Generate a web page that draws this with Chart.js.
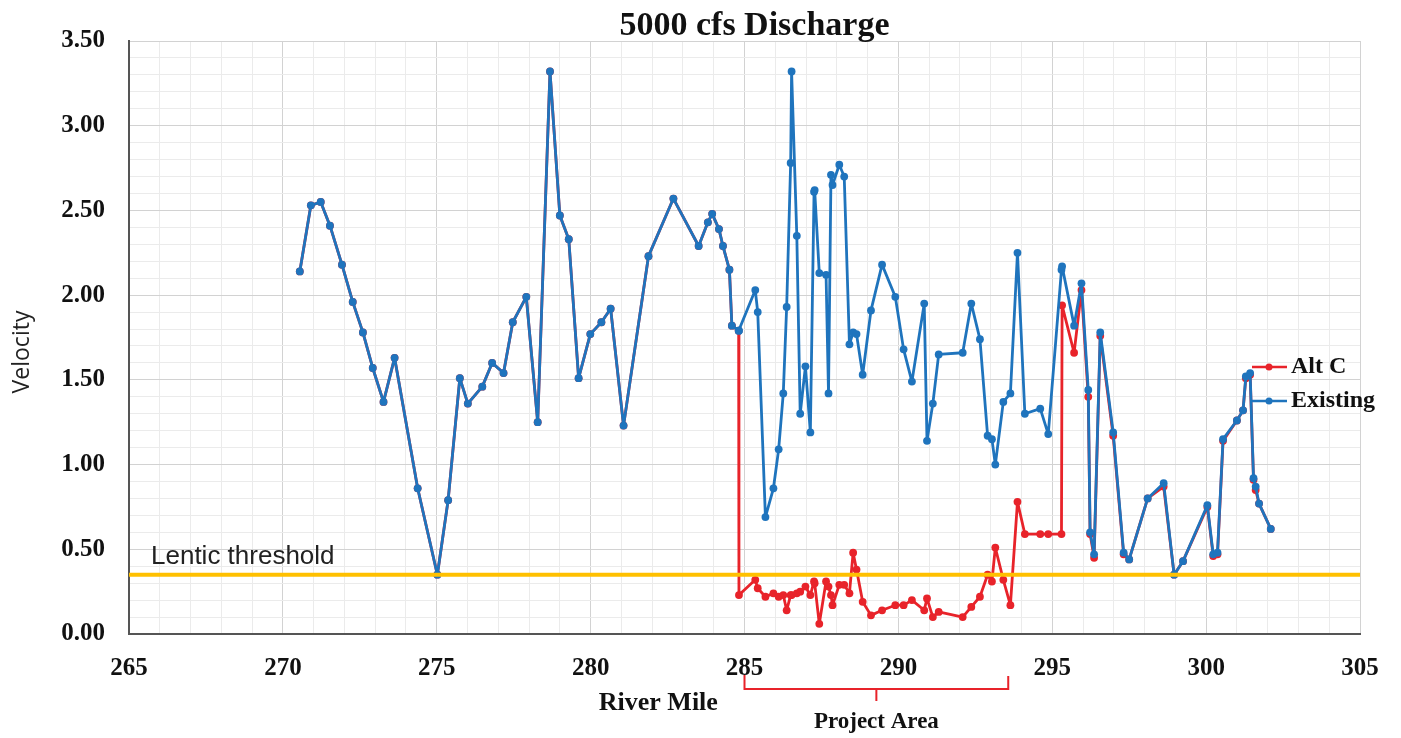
<!DOCTYPE html>
<html><head><meta charset="utf-8">
<script src="https://cdn.jsdelivr.net/npm/chart.js@4.4.1/dist/chart.umd.min.js"></script>
<style>html,body{margin:0;padding:0;background:#fff;}canvas{display:block;}</style>
</head><body>
<canvas id="c" width="1401" height="738"></canvas>
<script>
// ---- data ----
const riverMile = [
270.55, 270.91, 271.23, 271.53, 271.92, 272.27, 272.60, 272.92, 273.27, 273.63,
274.38, 275.02, 275.37, 275.75, 276.01, 276.48, 276.80, 277.17, 277.47, 277.91,
278.28, 278.68, 279.00, 279.29, 279.61, 279.99, 280.35, 280.65, 281.07, 281.88,
282.69, 283.51, 283.81, 283.95, 284.17, 284.30, 284.51, 284.59, 284.81, 284.82,
285.35, 285.43, 285.68, 285.94, 286.11, 286.26, 286.37, 286.50, 286.53, 286.70,
286.81, 286.98, 287.14, 287.26, 287.28, 287.43, 287.65, 287.73, 287.81, 287.86,
288.08, 288.24, 288.41, 288.53, 288.64, 288.84, 289.11, 289.47, 289.90, 290.17,
290.44, 290.84, 290.93, 291.12, 291.31, 292.09, 292.37, 292.65, 292.90, 293.04,
293.15, 293.41, 293.64, 293.87, 294.11, 294.61, 294.87, 295.30, 295.32, 295.71,
295.95, 296.17, 296.23, 296.36, 296.56, 296.98, 297.32, 297.50, 298.10, 298.62,
298.96, 299.25, 300.04, 300.23, 300.37, 300.55, 301.00, 301.20, 301.29, 301.43,
301.54, 301.61, 301.72, 302.10
];
const existing = [
2.14, 2.53, 2.55, 2.41, 2.18, 1.96, 1.78, 1.57, 1.37, 1.63,
0.86, 0.35, 0.79, 1.51, 1.36, 1.46, 1.60, 1.54, 1.84, 1.99,
1.25, 3.32, 2.47, 2.33, 1.51, 1.77, 1.84, 1.92, 1.23, 2.23,
2.57, 2.29, 2.43, 2.48, 2.39, 2.29, 2.15, 1.82, 1.79, 1.79,
2.03, 1.90, 0.69, 0.86, 1.09, 1.42, 1.93, 2.78, 3.32, 2.35,
1.30, 1.58, 1.19, 2.61, 2.62, 2.13, 2.12, 1.42, 2.71, 2.65,
2.77, 2.70, 1.71, 1.78, 1.77, 1.53, 1.91, 2.18, 1.99, 1.68,
1.49, 1.95, 1.14, 1.36, 1.65, 1.66, 1.95, 1.74, 1.17, 1.15,
1.00, 1.37, 1.42, 2.25, 1.30, 1.33, 1.18, 2.15, 2.17, 1.82,
2.07, 1.44, 0.60, 0.47, 1.78, 1.19, 0.48, 0.44, 0.80, 0.89,
0.35, 0.43, 0.76, 0.47, 0.48, 1.15, 1.26, 1.32, 1.52, 1.54,
0.92, 0.87, 0.77, 0.62
];
const altC = [
2.14, 2.53, 2.55, 2.41, 2.18, 1.96, 1.78, 1.57, 1.37, 1.63,
0.86, 0.35, 0.79, 1.51, 1.36, 1.46, 1.60, 1.54, 1.84, 1.99,
1.25, 3.32, 2.47, 2.33, 1.51, 1.77, 1.84, 1.92, 1.23, 2.23,
2.57, 2.29, 2.43, 2.48, 2.39, 2.29, 2.15, 1.82, 1.79, 0.23,
0.32, 0.27, 0.22, 0.24, 0.22, 0.23, 0.14, 0.23, 0.23, 0.24,
0.25, 0.28, 0.23, 0.31, 0.30, 0.06, 0.31, 0.28, 0.23, 0.17,
0.29, 0.29, 0.24, 0.48, 0.38, 0.19, 0.11, 0.14, 0.17, 0.17,
0.20, 0.14, 0.21, 0.10, 0.13, 0.10, 0.16, 0.22, 0.35, 0.31,
0.51, 0.32, 0.17, 0.78, 0.59, 0.59, 0.59, 0.59, 1.94, 1.66,
2.03, 1.40, 0.59, 0.45, 1.76, 1.17, 0.47, 0.44, 0.80, 0.87,
0.35, 0.43, 0.75, 0.46, 0.47, 1.14, 1.26, 1.32, 1.51, 1.53,
0.91, 0.85, 0.77, 0.62
];
const lenticThreshold = 0.35;
const xTickLabels = [265, 270, 275, 280, 285, 290, 295, 300, 305];
const yTickLabels = [0, 0.5, 1.0, 1.5, 2.0, 2.5, 3.0, 3.5];
const projectArea = [285.0, 293.57];
const seriesNames = ['Alt C', 'Existing'];
const chartTitle = '5000 cfs Discharge';
const xTitle = 'River Mile';
const yTitle = 'Velocity';
const thresholdLabel = 'Lentic threshold';
const projectLabel = 'Project Area';

// ---- styles ----
const BLUE = '#1f74bd', RED = '#e8232a', GOLD = '#ffc000';
const SERIF = '"Liberation Serif","Times New Roman",serif';
const SANS = '"Liberation Sans",Arial,sans-serif';
const toPoints = (xs, ys) => xs.map((x, i) => ({x: x, y: ys[i]}));
const near = (v, arr) => arr.some(t => Math.abs(t - v) < 1e-6);

const overlay = {
  id: 'overlay',
  afterDraw(chart) {
    const ctx = chart.ctx, ca = chart.chartArea;
    const xs = chart.scales.x, ys = chart.scales.y;
    ctx.save();
    // title
    ctx.fillStyle = '#111';
    ctx.font = 'bold 34px ' + SERIF;
    ctx.textAlign = 'center'; ctx.textBaseline = 'middle';
    ctx.fillText(chartTitle, (ca.left + ca.right) / 2 + 10, 26);
    // y title
    ctx.save();
    ctx.translate(22, 352);
    ctx.rotate(-Math.PI / 2);
    ctx.font = '23px "Open Sans",' + SANS;
    ctx.fillStyle = '#222';
    ctx.fillText(yTitle, 0, 0);
    ctx.restore();
    // x title
    ctx.font = 'bold 26px ' + SERIF;
    ctx.fillStyle = '#111';
    ctx.fillText(xTitle, xs.getPixelForValue(282.2), 703);
    // threshold label
    ctx.font = '26px ' + SANS;
    ctx.fillStyle = '#222';
    ctx.textAlign = 'left'; ctx.textBaseline = 'alphabetic';
    ctx.fillText(thresholdLabel, ca.left + 22, ys.getPixelForValue(lenticThreshold) - 11);
    // project area bracket
    const x0 = xs.getPixelForValue(projectArea[0]);
    const x1 = xs.getPixelForValue(projectArea[1]);
    const xm = (x0 + x1) / 2;
    ctx.strokeStyle = RED; ctx.lineWidth = 2;
    ctx.beginPath();
    ctx.moveTo(x0, 675); ctx.lineTo(x0, 689); ctx.lineTo(x1, 689); ctx.lineTo(x1, 676);
    ctx.moveTo(xm, 689); ctx.lineTo(xm, 701);
    ctx.stroke();
    ctx.font = 'bold 23px ' + SERIF;
    ctx.fillStyle = '#111';
    ctx.textAlign = 'center'; ctx.textBaseline = 'middle';
    ctx.fillText(projectLabel, xm, 722);
    // legend
    const items = [[seriesNames[0], RED, 367], [seriesNames[1], BLUE, 401]];
    ctx.font = 'bold 24px ' + SERIF;
    ctx.textAlign = 'left';
    items.forEach(([label, col, y]) => {
      ctx.strokeStyle = col; ctx.lineWidth = 2.5;
      ctx.beginPath(); ctx.moveTo(1252, y); ctx.lineTo(1287, y); ctx.stroke();
      ctx.fillStyle = col;
      ctx.beginPath(); ctx.arc(1269, y, 3.5, 0, Math.PI * 2); ctx.fill();
      ctx.fillStyle = '#111';
      ctx.fillText(label, 1291, y);
    });
    ctx.restore();
  }
};

new Chart(document.getElementById('c'), {
  type: 'line',
  data: {
    datasets: [
      {
        label: 'Lentic threshold',
        data: toPoints([xTickLabels[0], xTickLabels[xTickLabels.length - 1]], [lenticThreshold, lenticThreshold]),
        borderColor: GOLD, borderWidth: 4, pointRadius: 0, order: 0
      },
      {
        label: seriesNames[1],
        data: toPoints(riverMile, existing),
        borderColor: BLUE, backgroundColor: BLUE, borderWidth: 2.8,
        borderJoinStyle: 'round', borderCapStyle: 'round',
        pointRadius: 3.9, pointBorderWidth: 0, pointBackgroundColor: BLUE, order: 1
      },
      {
        label: seriesNames[0],
        data: toPoints(riverMile, altC),
        borderColor: RED, backgroundColor: RED, borderWidth: 2.8,
        borderJoinStyle: 'round', borderCapStyle: 'round',
        pointRadius: 3.9, pointBorderWidth: 0, pointBackgroundColor: RED, order: 2
      }
    ]
  },
  options: {
    responsive: false,
    animation: false,
    devicePixelRatio: 1,
    layout: {padding: {top: 41, right: 41, left: 0, bottom: 0}},
    plugins: {legend: {display: false}, tooltip: {enabled: false}, title: {display: false}},
    elements: {line: {tension: 0}},
    scales: {
      x: {
        type: 'linear', min: 265, max: 305,
        afterFit: s => { s.height = 104; },
        border: {color: '#555', width: 2},
        grid: {
          drawTicks: false,
          color: c => (c.tick && near(c.tick.value, xTickLabels)) ? '#d2d2d2' : '#ebebeb',
          lineWidth: 1
        },
        ticks: {
          stepSize: 1, autoSkip: false, maxRotation: 0, padding: 20, maxTicksLimit: 100,
          color: '#111', font: {family: SERIF, size: 25, weight: 'bold'},
          callback: v => near(v, xTickLabels) ? String(Math.round(v)) : ''
        }
      },
      y: {
        type: 'linear', min: 0, max: 3.5,
        afterFit: s => { s.width = 129; },
        border: {color: '#555', width: 2},
        grid: {
          drawTicks: false,
          color: c => (c.tick && near(c.tick.value, yTickLabels)) ? '#d2d2d2' : '#ebebeb',
          lineWidth: 1
        },
        ticks: {
          stepSize: 0.1, autoSkip: false, padding: 24, maxTicksLimit: 100,
          color: '#111', font: {family: SERIF, size: 25, weight: 'bold'},
          callback: v => near(v, yTickLabels) ? v.toFixed(2) : ''
        }
      }
    }
  },
  plugins: [overlay]
});
</script>
</body></html>
